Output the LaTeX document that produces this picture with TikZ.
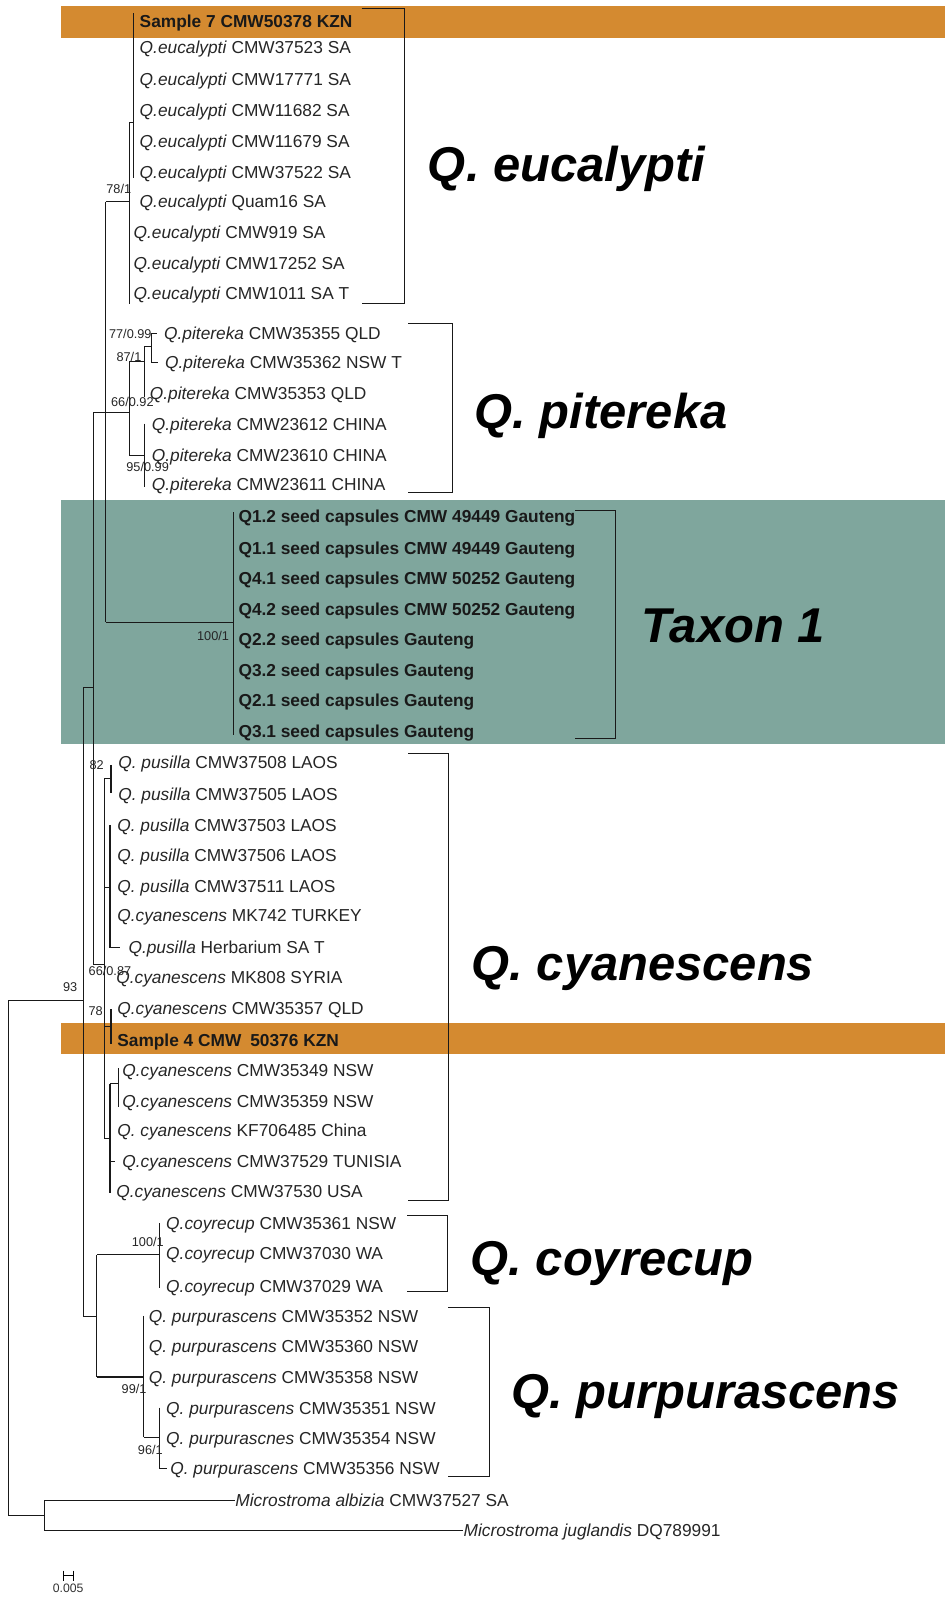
\documentclass[tikz,border=0pt]{standalone}
\usepackage{fontspec}
\setmainfont{Liberation Sans}
\definecolor{bandorange}{RGB}{212,138,48}
\definecolor{bandteal}{RGB}{127,166,157}
\definecolor{treeline}{RGB}{25,25,25}
\begin{document}
\begin{tikzpicture}[x=1pt,y=-1pt,
  leaf/.style={anchor=base west,inner sep=0pt,font=\fontsize{17}{17}\selectfont,text=black!85},
  bleaf/.style={leaf,font=\fontsize{17}{17}\selectfont\bfseries,text=black!90},
  boot/.style={anchor=east,inner sep=0pt,font=\fontsize{12.5}{12.5}\selectfont,text=black!85},
  clade/.style={anchor=base west,inner sep=0pt,font=\fontsize{48}{48}\selectfont\bfseries\itshape},
  br/.style={line width=1.05pt,draw=treeline},
  bk/.style={line width=1.05pt,draw=treeline}]
\useasboundingbox (0,0) rectangle (928,1568);
\fill[white] (0,0) rectangle (928,1568);
% bands
\fill[bandorange] (60,6) rectangle (928,37);
\fill[bandorange] (60,1004) rectangle (928,1035);
\fill[bandteal] (60,491) rectangle (928,730);

% ---- leaves ----
\node[bleaf] (l1) at (137,27) {Sample 7 CMW50378 KZN};
\node[leaf] (l2) at (137,53) {\textit{Q.eucalypti} CMW37523 SA};
\node[leaf] (l3) at (137,84) {\textit{Q.eucalypti} CMW17771 SA};
\node[leaf] (l4) at (137,114) {\textit{Q.eucalypti} CMW11682 SA};
\node[leaf] (l5) at (137,145) {\textit{Q.eucalypti} CMW11679 SA};
\node[leaf] (l6) at (137,175) {\textit{Q.eucalypti} CMW37522 SA};
\node[leaf] (l7) at (137,204) {\textit{Q.eucalypti} Quam16 SA};
\node[leaf] (l8) at (131,234) {\textit{Q.eucalypti} CMW919 SA};
\node[leaf] (l9) at (131,265) {\textit{Q.eucalypti} CMW17252 SA};
\node[leaf] (l10) at (131,294) {\textit{Q.eucalypti} CMW1011 SA T};

\node[leaf] (p1) at (161,333) {\textit{Q.pitereka} CMW35355 QLD};
\node[leaf] (p2) at (162,362) {\textit{Q.pitereka} CMW35362 NSW T};
\node[leaf] (p3) at (147,392) {\textit{Q.pitereka} CMW35353 QLD};
\node[leaf] (p4) at (149,423) {\textit{Q.pitereka} CMW23612 CHINA};
\node[leaf] (p5) at (149,453) {\textit{Q.pitereka} CMW23610 CHINA};
\node[leaf] (p6) at (149,482) {\textit{Q.pitereka} CMW23611 CHINA};

\node[bleaf] (t1) at (234,513) {Q1.2 seed capsules CMW 49449 Gauteng};
\node[bleaf] (t2) at (234,544) {Q1.1 seed capsules CMW 49449 Gauteng};
\node[bleaf] (t3) at (234,574) {Q4.1 seed capsules CMW 50252 Gauteng};
\node[bleaf] (t4) at (234,604) {Q4.2 seed capsules CMW 50252 Gauteng};
\node[bleaf] (t5) at (234,634) {Q2.2 seed capsules Gauteng};
\node[bleaf] (t6) at (234,664) {Q3.2 seed capsules Gauteng};
\node[bleaf] (t7) at (234,694) {Q2.1 seed capsules Gauteng};
\node[bleaf] (t8) at (234,724) {Q3.1 seed capsules Gauteng};

\node[leaf] (c1) at (116,755) {\textit{Q. pusilla} CMW37508 LAOS};
\node[leaf] (c2) at (116,786) {\textit{Q. pusilla} CMW37505 LAOS};
\node[leaf] (c3) at (115,816) {\textit{Q. pusilla} CMW37503 LAOS};
\node[leaf] (c4) at (115,846) {\textit{Q. pusilla} CMW37506 LAOS};
\node[leaf] (c5) at (115,876) {\textit{Q. pusilla} CMW37511 LAOS};
\node[leaf] (c6) at (115,905) {\textit{Q.cyanescens} MK742 TURKEY};
\node[leaf] (c7) at (126,936) {\textit{Q.pusilla} Herbarium SA T};
\node[leaf] (c8) at (114,966) {\textit{Q.cyanescens} MK808 SYRIA};
\node[leaf] (c9) at (115,996) {\textit{Q.cyanescens} CMW35357 QLD};
\node[bleaf] (c10) at (115,1027) {Sample 4 CMW\hspace{4pt} 50376 KZN};
\node[leaf] (c11) at (120,1057) {\textit{Q.cyanescens} CMW35349 NSW};
\node[leaf] (c12) at (120,1087) {\textit{Q.cyanescens} CMW35359 NSW};
\node[leaf] (c13) at (115,1116) {\textit{Q. cyanescens} KF706485 China};
\node[leaf] (c14) at (120,1146) {\textit{Q.cyanescens} CMW37529 TUNISIA};
\node[leaf] (c15) at (114,1176) {\textit{Q.cyanescens} CMW37530 USA};

\node[leaf] (k1) at (163,1207) {\textit{Q.coyrecup} CMW35361 NSW};
\node[leaf] (k2) at (163,1237) {\textit{Q.coyrecup} CMW37030 WA};
\node[leaf] (k3) at (163,1269) {\textit{Q.coyrecup} CMW37029 WA};

\node[leaf] (u1) at (146,1298) {\textit{Q. purpurascens} CMW35352 NSW};
\node[leaf] (u2) at (146,1328) {\textit{Q. purpurascens} CMW35360 NSW};
\node[leaf] (u3) at (146,1358) {\textit{Q. purpurascens} CMW35358 NSW};
\node[leaf] (u4) at (163,1389) {\textit{Q. purpurascens} CMW35351 NSW};
\node[leaf] (u5) at (163,1418) {\textit{Q. purpurascnes} CMW35354 NSW};
\node[leaf] (u6) at (167,1448) {\textit{Q. purpurascens} CMW35356 NSW};

\node[leaf] (m1) at (231,1479) {\textit{Microstroma albizia} CMW37527 SA};
\node[leaf] (m2) at (455,1509) {\textit{Microstroma juglandis} DQ789991};

% ---- internal node positions ----
\coordinate (root) at (8,982);
\coordinate (out) at (44,1488);
\coordinate (n3) at (82,982);
\coordinate (n2) at (92,675);
\coordinate (n1) at (104,405);
\coordinate (eB) at (127,198);
\coordinate (eA) at (131,120);
\coordinate (pP0) at (127,405);
\coordinate (pP1) at (142,355);
\coordinate (pP1a) at (149,340);
\coordinate (pP2) at (142,447);
\coordinate (tx) at (229,611);
\coordinate (cA) at (103,947);
\coordinate (cP1) at (109,764);
\coordinate (cB) at (108,871);
\coordinate (cC) at (109,1008);
\coordinate (cF) at (108,1118);
\coordinate (cD) at (116,1064);
\coordinate (n4) at (95,1293);
\coordinate (ky) at (157,1232);
\coordinate (uP) at (141,1352);
\coordinate (uP2) at (157,1411);

% ---- tree ----
\begin{scope}[br]
% root
\draw (8,982) -- (8,1488);
\draw (root) -- (n3);
\draw (8,1488) -- (out);
\draw (44,1473) -- (44,1503);
\draw (44,1473) -- (m1.west|-44,1473);
\draw (44,1503) -- (m2.west|-44,1503);
% N3
\draw (82,675) -- (82,1293);
\draw (82,675) -- (n2);
\draw (82,1293) -- (n4);
% N2
\draw (92,405) -- (92,947);
\draw (92,405) -- (pP0);
\draw (92,947) -- (cA);
% N1
\draw (104,198) -- (104,611);
\draw (104,198) -- (eB);
\draw (104,611) -- (tx);
% eucalypti
\draw (127,120) -- (127,298);
\draw (127,120) -- (131,120);
\draw (131,13) -- (131,175);
% pitereka
\draw (127,355) -- (127,447);
\draw (127,355) -- (pP1);
\draw (127,447) -- (pP2);
\draw (142,340) -- (142,390);
\draw (142,340) -- (pP1a);
\draw (154,327) -- (149,327) -- (149,356) -- (155,356);
\draw (142,416) -- (142,478);
% taxon 1
\draw (229,503) -- (229,722);
% cyanescens
\draw (103,764) -- (103,1118);
\draw (103,764) -- (cP1);
\draw (109,751) -- (109,779);
\draw (103,871) -- (cB);
\draw (108,810) -- (108,930) -- (118,930);
\draw (103,1008) -- (cC);
\draw (109,991) -- (109,1025);
\draw (103,1118) -- (cF);
\draw (108,1064) -- (108,1171);
\draw (108,1064) -- (cD);
\draw (116,1049) -- (116,1087);
\draw (108,1140) -- (113,1140);
% coyrecup + purpurascens
\draw (95,1232) -- (95,1352);
\draw (95,1232) -- (ky);
\draw (95,1352) -- (uP);
\draw (157,1201) -- (157,1265);
\draw (141,1292) -- (141,1411);
\draw (141,1411) -- (uP2);
\draw (157,1382) -- (157,1442) -- (164,1442);
\end{scope}

% ---- support values ----
\node[boot] (b1) at (129,186) {78/1};
\node[boot] (b2) at (149,328) {77/0.99};
\node[boot] (b3) at (139,350) {87/1};
\node[boot] (b4) at (151,395) {66/0.92};
\node[boot] (b5) at (166,458) {95/0.99};
\node[boot] (b6) at (225,624) {100/1};
\node[boot] (b7) at (102,751) {82};
\node[boot] (b8) at (129,953) {66/0.87};
\node[boot] (b9) at (76,969) {93};
\node[boot] (b10) at (101,993) {78};
\node[boot] (b11) at (161,1219) {100/1};
\node[boot] (b12) at (144,1364) {99/1};
\node[boot] (b13) at (160,1424) {96/1};

% ---- clade brackets ----
\draw[bk] (355,8) -- (397,8) -- (397,298) -- (355,298);
\draw[bk] (401,318) -- (444,318) -- (444,484) -- (401,484);
\draw[bk] (565,501) -- (604,501) -- (604,725) -- (565,725);
\draw[bk] (401,740) -- (440,740) -- (440,1179) -- (401,1179);
\draw[bk] (400,1193) -- (439,1193) -- (439,1268) -- (400,1268);
\draw[bk] (440,1284) -- (481,1284) -- (481,1450) -- (440,1450);

% ---- clade names ----
\node[clade] (g1) at (420,178) {Q. eucalypti};
\node[clade] (g2) at (466,421) {Q. pitereka};
\node[clade] (g3) at (630,631) {Taxon 1};
\node[clade] (g4) at (463,963) {Q. cyanescens};
\node[clade] (g5) at (462,1252) {Q. coyrecup};
\node[clade] (g6) at (502,1383) {Q. purpurascens};

% ---- scale bar ----
\coordinate (sb1) at (62,1547);
\coordinate (sb2) at (72,1547);
\draw[line width=0.9pt] (sb1) -- (sb2);
\draw[line width=0.9pt] (62,1542) -- (62,1552);
\draw[line width=0.9pt] (72,1542) -- (72,1552);
\node[inner sep=0pt,font=\fontsize{12}{12}\selectfont,text=black!80] (sbl) at (67,1559) {0.005};
\end{tikzpicture}
\end{document}
